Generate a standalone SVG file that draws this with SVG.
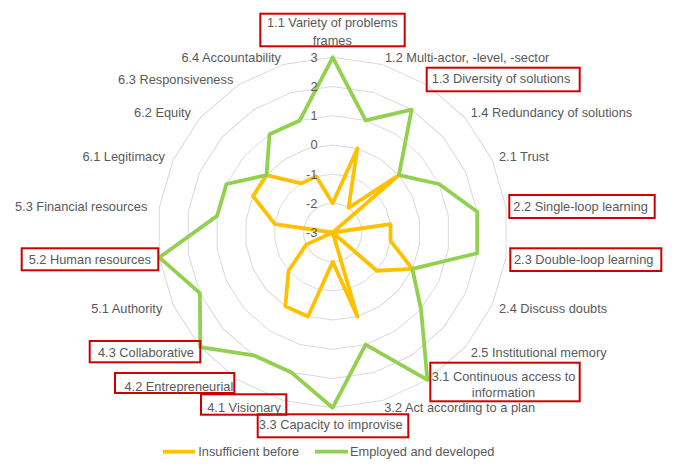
<svg xmlns="http://www.w3.org/2000/svg" xmlns:xlink="http://www.w3.org/1999/xlink" width="685" height="474" viewBox="0 0 685 474">
<style>
text{font-family:"Liberation Sans",Arial,sans-serif;font-size:12.8px;fill:#595959}
.e{text-anchor:end}
.m{text-anchor:middle}
.box{fill:none;stroke:#cc0000;stroke-width:2}
.ser{fill:none;stroke-linejoin:round;stroke-linecap:round}
</style>
<defs>
<polygon id="ring" fill="none" stroke="#d9d9d9" points="0,-100 28.17,-95.95 54.06,-84.13 75.58,-65.49 90.96,-41.54 98.98,-14.23 98.98,14.23 90.96,41.54 75.58,65.49 54.06,84.13 28.17,95.95 0,100 -28.17,95.95 -54.06,84.13 -75.58,65.49 -90.96,41.54 -98.98,14.23 -98.98,-14.23 -90.96,-41.54 -75.58,-65.49 -54.06,-84.13 -28.17,-95.95"/>
</defs>
<rect width="685" height="474" fill="#ffffff"/>
<g id="plot" transform="translate(332.7 232.5) scale(0.292)">
<g id="grid">
<use xlink:href="#ring" href="#ring" transform="scale(1)" stroke-width="3.425"/>
<use xlink:href="#ring" href="#ring" transform="scale(2)" stroke-width="1.712"/>
<use xlink:href="#ring" href="#ring" transform="scale(3)" stroke-width="1.142"/>
<use xlink:href="#ring" href="#ring" transform="scale(4)" stroke-width="0.856"/>
<use xlink:href="#ring" href="#ring" transform="scale(5)" stroke-width="0.685"/>
<use xlink:href="#ring" href="#ring" transform="scale(6)" stroke-width="0.571"/>
</g>
<g id="connectors">
<polygon id="insufficient" class="ser" stroke="#ffc000" stroke-width="13" points="0,-100 84.52,-287.85 54.06,-84.13 226.73,-196.46 0,0 197.96,-28.46 197.96,28.46 272.89,124.63 151.15,130.97 0,0 84.52,287.85 0,100 -84.52,287.85 -162.19,252.38 -151.15,130.97 -90.96,41.54 0,0 -197.96,-28.46 -272.89,-124.63 -226.73,-196.46 -108.13,-168.25 -56.35,-191.90"/>
<polygon id="employed" class="ser" stroke="#92d050" stroke-width="13" points="0,-600 112.69,-383.80 270.32,-420.63 226.73,-196.46 363.85,-166.17 494.91,-71.16 494.91,71.16 272.89,124.63 302.30,261.94 324.38,504.75 112.69,383.80 0,600 -140.87,479.75 -270.32,420.63 -453.45,392.92 -454.82,207.71 -593.89,85.39 -395.93,-56.92 -363.85,-166.17 -226.73,-196.46 -216.26,-336.50 -112.69,-383.80"/>
</g>
</g>
<g id="values">
<text class="e" x="317.5" y="61.8">3</text>
<text class="e" x="317.5" y="91">2</text>
<text class="e" x="317.5" y="120.2">1</text>
<text class="e" x="317.5" y="149.4">0</text>
<text class="e" x="317.5" y="178.6">-1</text>
<text class="e" x="317.5" y="207.8">-2</text>
<text class="e" x="317.5" y="237">-3</text>
</g>
<g id="n11"><rect class="box" x="260.3" y="13.7" width="144.4" height="32.6"/><text class="m" x="332.3" y="27.2">1.1 Variety of problems</text><text class="m" x="332.3" y="44.5">frames</text></g>
<g id="n12"><text x="385" y="61.8">1.2 Multi-actor, -level, -sector</text></g>
<g id="n13"><rect class="box" x="426.7" y="67.7" width="153" height="23.6"/><text x="431.7" y="82.8">1.3 Diversity of solutions</text></g>
<g id="n14"><text x="470.7" y="116.8">1.4 Redundancy of solutions</text></g>
<g id="n21"><text x="499" y="161.2">2.1 Trust</text></g>
<g id="n22"><rect class="box" x="509.3" y="195" width="145.4" height="23"/><text x="513.3" y="210.5">2.2 Single-loop learning</text></g>
<g id="n23"><rect class="box" x="510.3" y="248.3" width="151" height="22.7"/><text x="514" y="263.5">2.3 Double-loop learning</text></g>
<g id="n24"><text x="499" y="313.2">2.4 Discuss doubts</text></g>
<g id="n25"><text x="470.7" y="357.2">2.5 Institutional memory</text></g>
<g id="n31"><rect class="box" x="430.3" y="362.7" width="149.4" height="38.6"/><text class="m" x="503.5" y="381">3.1 Continuous access to</text><text class="m" x="503.5" y="396.8">information</text></g>
<g id="n32"><text x="384.3" y="411.8">3.2 Act according to a plan</text></g>
<g id="n33"><rect class="box" x="257.7" y="414.3" width="150.6" height="23"/><text class="m" x="330.7" y="428.8">3.3 Capacity to improvise</text></g>
<g id="n41"><rect class="box" x="201" y="394.3" width="85.3" height="20.4"/><text class="e" x="281" y="411.8">4.1 Visionary</text></g>
<g id="n42"><rect class="box" x="115" y="373" width="119.3" height="20"/><text class="e" x="233.3" y="390.5">4.2 Entrepreneurial</text></g>
<g id="n43"><rect class="box" x="89.7" y="341" width="110.6" height="21.3"/><text class="e" x="194" y="357.2">4.3 Collaborative</text></g>
<g id="n51"><text class="e" x="162.3" y="313.2">5.1 Authority</text></g>
<g id="n52"><rect class="box" x="21.7" y="248.3" width="136.6" height="22"/><text class="e" x="151" y="263.5">5.2 Human resources</text></g>
<g id="n53"><text class="e" x="147.3" y="210.5">5.3 Financial resources</text></g>
<g id="n61"><text class="e" x="165" y="161.2">6.1 Legitimacy</text></g>
<g id="n62"><text class="e" x="191" y="117.2">6.2 Equity</text></g>
<g id="n63"><text class="e" x="233.3" y="83.5">6.3 Responsiveness</text></g>
<g id="n64"><text class="e" x="281" y="61.8">6.4 Accountability</text></g>
<g id="legend">
<line x1="163" y1="451.7" x2="195" y2="451.7" stroke="#ffc000" stroke-width="3.8"/>
<text x="198.3" y="456.2">Insufficient before</text>
<line x1="315" y1="451.7" x2="348" y2="451.7" stroke="#92d050" stroke-width="3.8"/>
<text x="350" y="456.2">Employed and developed</text>
</g>
</svg>
